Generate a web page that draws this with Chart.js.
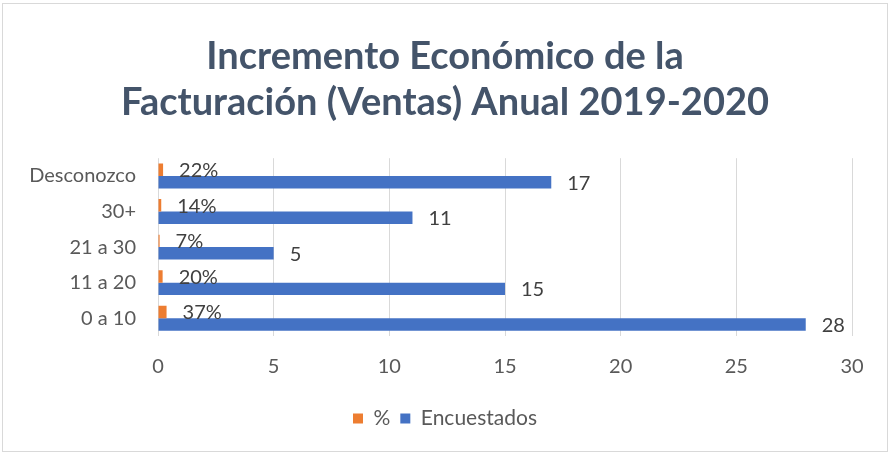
<!DOCTYPE html>
<html lang="es">
<head>
    <meta charset="UTF-8">
    <title>Incremento Económico</title>
    <script src="https://cdn.jsdelivr.net/npm/chart.js"></script>
    <style>
        body { margin: 0; background: #fff; }
        #box {
            position: absolute; left: 2px; top: 3px;
            width: 886px; height: 449px;
            border: 1px solid #d9d9d9;
            box-sizing: border-box;
        }
    </style>
</head>
<body>
    <div id="box"><canvas id="chart"></canvas></div>

    <script>
        const categorias = ['Desconozco', '30+', '21 a 30', '11 a 20', '0 a 10'];
        const porcentaje = [0.22, 0.14, 0.07, 0.20, 0.37];
        const encuestados = [17, 11, 5, 15, 28];
        const ticksX = [0, 5, 10, 15, 20, 25, 30];

        const fontName = 'Lato, "Open Sans", sans-serif';

        // etiquetas de valor al final de cada barra
        const etiquetas = {
            id: 'etiquetas',
            afterDatasetsDraw(chart) {
                const ctx = chart.ctx;
                ctx.save();
                ctx.font = '20px ' + fontName;
                ctx.fillStyle = '#404040';
                ctx.textBaseline = 'middle';
                chart.data.datasets.forEach((ds, i) => {
                    chart.getDatasetMeta(i).data.forEach((bar, j) => {
                        const v = ds.data[j];
                        const txt = i === 0 ? Math.round(v * 100) + '%' : String(v);
                        ctx.fillText(txt, bar.x + 16, bar.y + 1);
                    });
                });
                ctx.restore();
            }
        };

        new Chart(document.getElementById('chart'), {
            type: 'bar',
            data: {
                labels: categorias,
                datasets: [
                    { label: '%', data: porcentaje, backgroundColor: '#ED7D31' },
                    { label: 'Encuestados', data: encuestados, backgroundColor: '#4472C4' }
                ]
            },
            options: {
                indexAxis: 'y',
                responsive: true,
                maintainAspectRatio: false,
                animation: false,
                categoryPercentage: 0.7,
                barPercentage: 1.0,
                layout: { padding: { left: 0, right: 0, top: 22, bottom: 12 } },
                plugins: {
                    title: {
                        display: true,
                        text: ['Incremento Económico de la', 'Facturación (Ventas) Anual 2019-2020'],
                        color: '#44546A',
                        font: { family: fontName, size: 38, weight: 'bold', lineHeight: 1.2 },
                        padding: { top: 8, bottom: 33 }
                    },
                    legend: {
                        position: 'bottom',
                        labels: {
                            boxWidth: 10, boxHeight: 10,
                            color: '#595959',
                            font: { family: fontName, size: 21 },
                            padding: 10
                        }
                    },
                    tooltip: { enabled: false }
                },
                scales: {
                    x: {
                        min: 0, max: 30,
                        afterBuildTicks: s => { s.ticks = ticksX.map(v => ({ value: v })); },
                        afterFit: s => { s.paddingRight = 35; },
                        grid: { color: '#d9d9d9', drawTicks: false },
                        border: { display: false },
                        ticks: { color: '#595959', font: { family: fontName, size: 20 }, padding: 19 }
                    },
                    y: {
                        afterFit: s => { s.width = 155; },
                        grid: { display: false },
                        border: { display: false },
                        ticks: { color: '#595959', font: { family: fontName, size: 20 }, padding: 14 }
                    }
                }
            },
            plugins: [etiquetas]
        });
    </script>
</body>
</html>
